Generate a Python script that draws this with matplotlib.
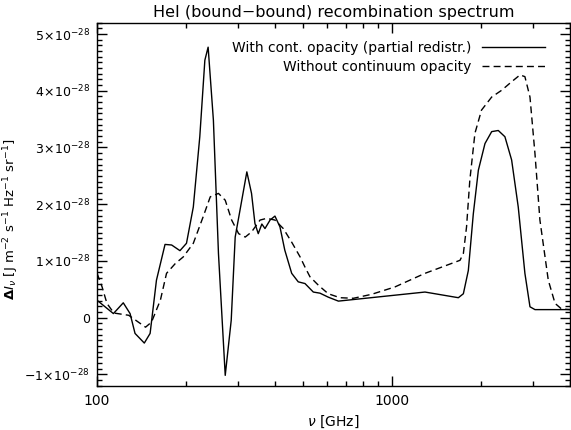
import numpy as np
import matplotlib
matplotlib.use("Agg")
import matplotlib.pyplot as plt
from matplotlib.ticker import FixedLocator, FuncFormatter, MultipleLocator, NullFormatter

# frequencies in GHz, intensities in units of 1e-28 J m^-2 s^-1 Hz^-1 sr^-1
nu_with = [100, 113.6, 122.7, 129.4, 134.5, 144.6, 151.3, 159, 170, 179, 191, 201, 212, 223, 232,
           238, 248, 258, 272, 285, 294, 322, 334, 343, 352, 362, 371, 386, 401, 417, 433, 457, 481,
           507, 541, 570, 608, 658, 1294, 1679, 1746, 1815, 1887, 1963, 2067, 2178, 2293, 2415,
           2545, 2680, 2823, 2937, 3054, 4064]
dI_with = [0.305, 0.07, 0.26, 0.07, -0.28, -0.45, -0.28, 0.66, 1.29, 1.28, 1.18, 1.31, 1.95, 3.19, 4.54,
           4.77, 3.48, 1.13, -1.02, -0.05, 1.42, 2.57, 2.19, 1.66, 1.48, 1.65, 1.57, 1.72, 1.79, 1.60, 1.19, 0.78, 0.63,
           0.60, 0.45, 0.43, 0.36, 0.29, 0.45, 0.35, 0.42, 0.83, 1.83, 2.60, 3.07, 3.28, 3.30, 3.19,
           2.78, 1.95, 0.78, 0.19, 0.14, 0.14]

nu_without = [100, 104, 108, 114, 128, 146, 153, 164, 172, 184, 196, 212, 229, 242, 258, 272, 286,
              302, 318, 334, 357, 376, 401, 428, 457, 488, 507, 527, 563, 608, 666, 740, 853, 1023,
              1294, 1701, 1746, 1790, 1836, 1911, 2012, 2178, 2355, 2545, 2717, 2823, 2937, 3054,
              3174, 3388, 3572, 3760, 4064]
dI_without = [0.78, 0.54, 0.25, 0.08, 0.04, -0.17, -0.08, 0.31, 0.78, 0.95, 1.07, 1.31, 1.78, 2.13, 2.19, 2.07, 1.72,
              1.48, 1.42, 1.51, 1.72, 1.75, 1.72, 1.57, 1.33, 1.07, 0.89, 0.72, 0.57, 0.42, 0.35, 0.34, 0.41, 0.54,
              0.78, 1.01, 1.13, 1.60, 2.42, 3.25, 3.66, 3.89, 4.01, 4.16, 4.28, 4.25, 3.89, 2.89,
              1.72, 0.66, 0.25, 0.15, 0.14]

label_with = "With cont. opacity (partial redistr.)"
label_without = "Without continuum opacity"

scale = 1e-28

fig = plt.figure(figsize=(5.71, 4.30), dpi=100)
ax = fig.add_axes([0.170, 0.102, 0.828, 0.845])

ax.plot(nu_with, np.array(dI_with) * scale, color="black", lw=1.0, label=label_with)
ax.plot(nu_without, np.array(dI_without) * scale, color="black", lw=1.0,
        dashes=(5, 3), label=label_without)

ax.set_xscale("log")
ax.set_xlim(100, 4010)
ax.set_ylim(-1.21 * scale, 5.2 * scale)

ax.xaxis.set_major_locator(FixedLocator([100, 1000]))
ax.xaxis.set_minor_locator(FixedLocator([200, 300, 400, 500, 600, 700, 800, 900, 2000, 3000, 4000]))
ax.xaxis.set_major_formatter(FuncFormatter(lambda v, p: "%d" % v))
ax.xaxis.set_minor_formatter(NullFormatter())

ax.yaxis.set_major_locator(FixedLocator([k * scale for k in range(-1, 6)]))
ax.yaxis.set_minor_locator(MultipleLocator(0.1 * scale))


def yfmt(v, pos):
    m = int(round(v / scale))
    if m == 0:
        return "0"
    return r"$%d\!\times\!10^{-28}$" % m


ax.yaxis.set_major_formatter(FuncFormatter(yfmt))

ax.tick_params(which="both", direction="in", top=True, right=True, width=1.0)
ax.tick_params(which="major", length=7, pad=6)
ax.tick_params(which="minor", length=3.5)
ax.tick_params(axis="x", labelsize=10)
ax.tick_params(axis="y", labelsize=9, pad=5)
for s in ax.spines.values():
    s.set_linewidth(1.0)

ax.set_title("HeI (bound\u2212bound) recombination spectrum", fontsize=11.5, pad=4)
ax.set_xlabel(r"$\nu$ [GHz]", fontsize=10)
ax.set_ylabel(r"$\mathbf{\Delta} I_\nu$ [J m$^{-2}$ s$^{-1}$ Hz$^{-1}$ sr$^{-1}$]", fontsize=9.5)
ax.yaxis.set_label_coords(-0.16, 0.46)

ax.legend(loc="upper right", bbox_to_anchor=(0.959, 0.965), frameon=False, markerfirst=False,
          fontsize=10, handlelength=4.5, handletextpad=0.8, borderaxespad=0.0, labelspacing=0.35)

fig.savefig("out.png", dpi=100)
